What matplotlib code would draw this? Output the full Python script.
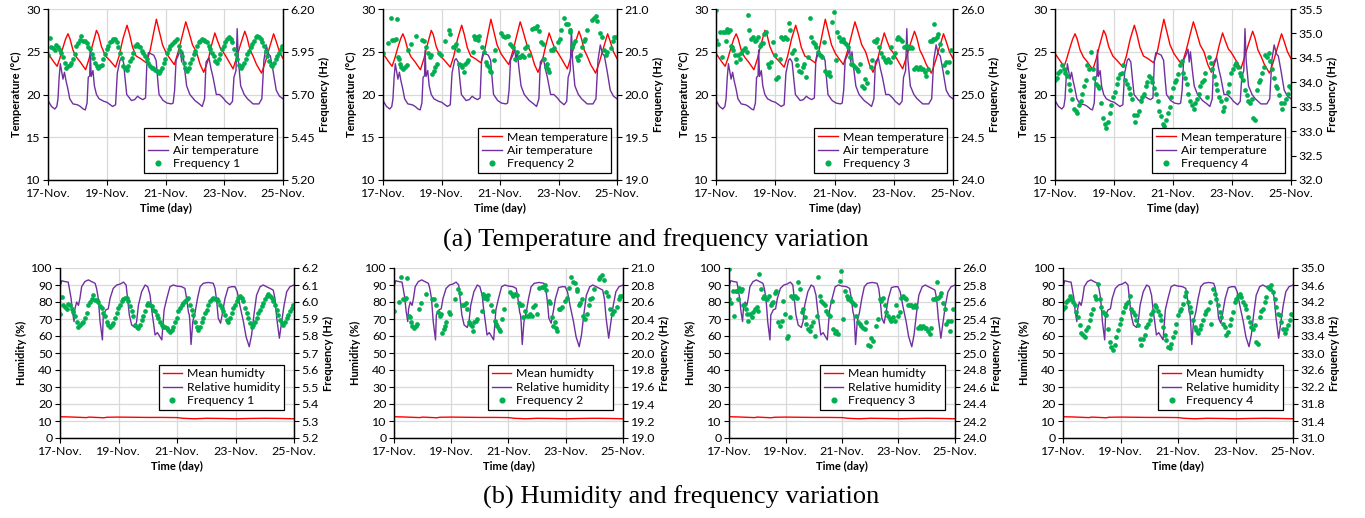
import numpy as np
import matplotlib
matplotlib.use('Agg')
import matplotlib.pyplot as plt
from matplotlib.lines import Line2D
from matplotlib.ticker import FormatStrFormatter

plt.rcParams['font.family'] = ['Lato', 'DejaVu Sans']

# ---------------- data (time in days since 17-Nov 00:00) ----------------
XTICK_POS = [0, 2, 4, 6, 8]
XTICK_LABELS = ['17-Nov.', '19-Nov.', '21-Nov.', '23-Nov.', '25-Nov.']

MEAN_T_DAY = [0.00, 0.10, 0.20, 0.31, 0.40, 0.50, 0.60, 0.68, 0.75, 0.85,
              0.96, 1.10, 1.28, 1.40, 1.50, 1.65, 1.72, 1.82, 1.96, 2.10,
              2.30, 2.42, 2.55, 2.69, 2.78, 2.88, 3.00, 3.15, 3.35, 3.48,
              3.60, 3.69, 3.78, 3.90, 4.03, 4.15, 4.30, 4.45, 4.58, 4.69,
              4.78, 4.92, 5.05, 5.18, 5.30, 5.45, 5.57, 5.68, 5.77, 5.88,
              5.96, 6.10, 6.30, 6.42, 6.55, 6.70, 6.78, 6.88, 6.98, 7.10,
              7.27, 7.40, 7.55, 7.68, 7.76, 7.88, 8.00]
MEAN_T = [24.8, 24.3, 23.8, 23.3, 24.2, 25.4, 26.5, 27.1, 26.5, 25.2,
          24.4, 23.8, 22.9, 24.2, 25.6, 27.5, 27.0, 25.6, 24.5, 24.0,
          23.2, 24.5, 26.5, 28.1, 27.0, 25.5, 24.5, 24.2, 23.7, 25.2,
          27.3, 28.8, 27.5, 25.8, 24.8, 24.2, 23.5, 25.2, 27.0, 28.5,
          27.5, 25.8, 25.0, 23.5, 22.6, 24.0, 25.8, 27.2, 26.3, 25.3,
          25.0, 24.2, 23.0, 24.3, 25.8, 27.4, 26.6, 25.2, 24.5, 23.5,
          22.5, 23.8, 25.6, 27.1, 26.3, 25.0, 24.2]

AIR_T_DAY = [0.00, 0.05, 0.12, 0.23, 0.30, 0.34, 0.38, 0.42, 0.47, 0.51,
             0.56, 0.62, 0.68, 0.74, 0.85, 1.00, 1.10, 1.20, 1.27, 1.33,
             1.37, 1.42, 1.44, 1.47, 1.53, 1.58, 1.65, 1.74, 1.90, 2.00,
             2.20, 2.30, 2.36, 2.45, 2.50, 2.57, 2.62, 2.68, 2.84, 2.95,
             3.05, 3.12, 3.23, 3.32, 3.37, 3.42, 3.60, 3.68, 3.74, 3.78,
             3.92, 4.05, 4.20, 4.26, 4.31, 4.36, 4.44, 4.51, 4.55, 4.59,
             4.65, 4.72, 4.83, 5.00, 5.15, 5.25, 5.33, 5.38, 5.48, 5.55,
             5.62, 5.73, 5.84, 5.96, 6.05, 6.19, 6.28, 6.33, 6.40, 6.44,
             6.48, 6.56, 6.68, 6.79, 6.98, 7.18, 7.28, 7.35, 7.43, 7.50,
             7.57, 7.66, 7.77, 7.88, 8.00]
AIR_T = [19.3, 19.0, 18.6, 18.3, 18.6, 19.5, 22.0, 23.6, 22.6, 21.8,
         22.6, 21.5, 20.6, 19.5, 18.9, 18.8, 18.6, 18.3, 18.2, 19.0,
         22.0, 22.2, 25.2, 22.1, 22.8, 21.0, 20.0, 19.5, 19.2, 19.1,
         18.6, 18.8, 22.5, 24.0, 24.2, 23.8, 22.0, 20.0, 19.3, 19.4,
         19.8, 19.6, 19.4, 19.6, 24.0, 24.9, 24.6, 24.0, 21.5, 20.0,
         19.3, 19.0, 18.9, 19.0, 20.5, 24.0, 24.6, 25.3, 23.8, 25.0,
         23.0, 21.0, 20.0, 19.3, 18.9, 18.6, 19.5, 23.8, 24.3, 23.0,
         22.0, 20.0, 20.0, 19.6, 19.2, 18.8, 19.2, 22.0, 22.8, 27.7,
         24.0, 21.0, 20.0, 19.5, 18.9, 18.9, 19.5, 24.0, 25.8, 24.8,
         24.5, 22.8, 20.5, 19.8, 19.5]

REL_H_DAY = [0.00, 0.06, 0.17, 0.28, 0.32, 0.38, 0.42, 0.48, 0.51, 0.57,
             0.63, 0.68, 0.74, 0.85, 0.97, 1.08, 1.20, 1.25, 1.31, 1.37,
             1.45, 1.48, 1.57, 1.65, 1.71, 1.82, 1.94, 2.05, 2.17, 2.26,
             2.31, 2.37, 2.45, 2.56, 2.62, 2.68, 2.79, 2.91, 3.00, 3.08,
             3.13, 3.19, 3.25, 3.33, 3.40, 3.48, 3.56, 3.65, 3.76, 3.87,
             3.99, 4.16, 4.27, 4.33, 4.39, 4.42, 4.44, 4.48, 4.54, 4.62,
             4.70, 4.79, 4.90, 5.07, 5.24, 5.30, 5.36, 5.41, 5.49, 5.56,
             5.64, 5.75, 5.87, 5.98, 6.06, 6.15, 6.27, 6.36, 6.47, 6.55,
             6.63, 6.72, 6.84, 6.95, 7.06, 7.18, 7.29, 7.35, 7.41, 7.50,
             7.58, 7.66, 7.75, 7.86, 8.00]
REL_H = [89, 92.5, 92, 91.7, 88, 82, 75, 68.5, 76, 80,
         78, 82, 89, 92, 93, 92, 91, 88, 82, 68.5,
         57.7, 72.4, 75.4, 76, 82, 88, 90, 90.5, 91.7, 90,
         82, 72.4, 66.5, 65, 68.5, 78, 86, 90, 89, 84,
         76, 68.5, 60.6, 62, 60, 57.7, 75.4, 82, 89, 90,
         89.4, 89, 88, 82, 74, 72.4, 68.5, 55, 68.5, 74,
         82, 89, 91, 91.5, 91, 88, 80, 70.5, 67.5, 74,
         82, 88.5, 89, 89, 86, 78, 68.5, 59.6, 53.7, 60.6,
         72.4, 84, 89, 90, 89, 88, 87, 82, 70.5, 58.7,
         68.5, 78, 86, 89, 90]

MEAN_H_DAY = [0.0, 0.3, 0.6, 0.9, 1.0, 1.5, 1.6, 2.0, 2.5, 3.0, 3.5,
              4.0, 4.2, 4.6, 5.0, 5.5, 6.0, 6.5, 7.0, 7.5, 8.0]
MEAN_H = [12.5, 12.4, 12.2, 12.0, 12.3, 11.9, 12.2, 12.3, 12.2, 12.1, 12.1,
          12.0, 11.6, 11.3, 11.6, 11.5, 11.3, 11.5, 11.6, 11.5, 11.3]

# Frequency 1 (Hz), regularly sampled from 17-Nov to 25-Nov
FREQ1 = [5.93, 6.03, 5.98, 5.97, 5.96, 5.99, 5.98, 5.96, 5.94, 5.92,
         5.885, 5.855, 5.865, 5.875, 5.885, 5.905, 5.935, 5.985, 6.00, 6.02,
         6.04, 6.01, 6.01, 6.00, 5.975, 5.965, 5.935, 5.915, 5.885, 5.865,
         5.855, 5.865, 5.875, 5.905, 5.935, 5.965, 5.985, 6.005, 6.015, 6.025,
         6.025, 6.005, 5.975, 5.945, 5.915, 5.865, 5.855, 5.845, 5.865, 5.895,
         5.915, 5.945, 5.985, 5.995, 5.985, 5.975, 5.955, 5.945, 5.925, 5.905,
         5.885, 5.865, 5.855, 5.855, 5.845, 5.835, 5.825, 5.835, 5.855, 5.885,
         5.905, 5.945, 5.965, 5.985, 5.995, 6.005, 6.015, 6.025, 5.985, 5.955,
         5.925, 5.885, 5.855, 5.835, 5.855, 5.885, 5.905, 5.935, 5.955, 5.985,
         6.005, 6.015, 6.025, 6.02, 6.015, 6.005, 5.985, 5.965, 5.945, 5.925,
         5.895, 5.885, 5.905, 5.935, 5.965, 5.985, 6.005, 6.025, 6.035, 6.025,
         6.005, 5.965, 5.935, 5.905, 5.875, 5.855, 5.865, 5.885, 5.905, 5.935,
         5.955, 5.975, 5.995, 6.015, 6.035, 6.045, 6.035, 6.025, 6.005, 5.985,
         5.955, 5.925, 5.895, 5.875, 5.865, 5.885, 5.905, 5.925, 5.945, 5.965,
         5.985]
FREQ1_DAY = np.linspace(0.0, 7.98, len(FREQ1))

FREQ2_DAY = [0.00, 0.18, 0.26, 0.32, 0.37, 0.43, 0.47, 0.51, 0.55, 0.58,
             0.63, 0.69, 0.76, 0.81, 0.86, 0.96, 1.13, 1.34, 1.40, 1.48,
             1.54, 1.60, 1.64, 1.68, 1.74, 1.78, 1.83, 1.92, 1.97, 2.13,
             2.24, 2.30, 2.39, 2.45, 2.51, 2.56, 2.61, 2.65, 2.71, 2.77,
             2.80, 2.86, 2.91, 3.06, 3.10, 3.14, 3.20, 3.24, 3.29, 3.38,
             3.47, 3.53, 3.56, 3.61, 3.66, 3.70, 3.79, 3.84, 4.05, 4.11,
             4.17, 4.23, 4.29, 4.35, 4.40, 4.46, 4.52, 4.58, 4.64, 4.70,
             4.75, 4.81, 4.87, 4.93, 4.99, 5.08, 5.16, 5.22, 5.28, 5.32,
             5.40, 5.46, 5.51, 5.57, 5.61, 5.65, 5.69, 5.75, 5.81, 5.86,
             5.98, 6.04, 6.10, 6.18, 6.27, 6.33, 6.39, 6.41, 6.45, 6.51,
             6.57, 6.62, 6.68, 6.74, 6.80, 6.86, 6.92, 6.97, 7.15, 7.21,
             7.27, 7.32, 7.41, 7.48, 7.55, 7.62, 7.67, 7.79, 7.85, 7.91,
             7.97]
FREQ2 = [20.49, 20.60, 20.90, 20.64, 20.64, 20.65, 20.88, 20.44, 20.42, 20.36,
         20.32, 20.30, 20.32, 20.34, 20.52, 20.59, 20.69, 20.64, 20.63, 20.56,
         20.48, 20.44, 20.46, 20.24, 20.28, 20.32, 20.36, 20.48, 20.46, 20.63,
         20.75, 20.71, 20.56, 20.57, 20.59, 20.52, 20.36, 20.34, 20.32, 20.26,
         20.36, 20.38, 20.40, 20.50, 20.69, 20.65, 20.67, 20.64, 20.68, 20.56,
         20.50, 20.38, 20.34, 20.32, 20.28, 20.26, 20.40, 20.52, 20.72, 20.69,
         20.67, 20.69, 20.68, 20.59, 20.57, 20.56, 20.42, 20.50, 20.44, 20.44,
         20.46, 20.44, 20.54, 20.57, 20.46, 20.77, 20.78, 20.78, 20.80, 20.74,
         20.61, 20.59, 20.42, 20.32, 20.36, 20.30, 20.26, 20.52, 20.52, 20.54,
         20.61, 20.65, 20.76, 20.90, 20.83, 20.82, 20.75, 20.73, 20.56, 20.59,
         20.63, 20.44, 20.40, 20.46, 20.56, 20.63, 20.65, 20.75, 20.87, 20.89,
         20.92, 20.86, 20.72, 20.67, 20.52, 20.46, 20.50, 20.54, 20.63, 20.67,
         20.67]

FREQ3_DAY = [0.00, 0.01, 0.06, 0.13, 0.19, 0.24, 0.29, 0.33, 0.37, 0.42,
             0.47, 0.51, 0.54, 0.59, 0.65, 0.68, 0.74, 0.80, 0.86, 0.92,
             0.98, 1.04, 1.07, 1.13, 1.19, 1.24, 1.30, 1.35, 1.41, 1.47,
             1.51, 1.57, 1.62, 1.68, 1.74, 1.80, 1.86, 1.92, 1.98, 2.04,
             2.10, 2.16, 2.21, 2.27, 2.33, 2.39, 2.45, 2.51, 2.57, 2.63,
             2.69, 2.74, 2.80, 2.86, 2.92, 2.98, 3.04, 3.10, 3.16, 3.22,
             3.27, 3.33, 3.39, 3.45, 3.51, 3.57, 3.63, 3.69, 3.75, 3.80,
             3.86, 3.92, 3.98, 4.04, 4.10, 4.16, 4.22, 4.28, 4.33, 4.39,
             4.45, 4.51, 4.57, 4.63, 4.69, 4.75, 4.81, 4.86, 4.92, 4.98,
             5.04, 5.10, 5.22, 5.28, 5.34, 5.39, 5.45, 5.51, 5.57, 5.63,
             5.69, 5.75, 5.81, 5.87, 5.92, 5.98, 6.04, 6.10, 6.16, 6.22,
             6.28, 6.34, 6.40, 6.45, 6.51, 6.57, 6.63, 6.69, 6.75, 6.81,
             6.87, 6.93, 6.98, 7.04, 7.10, 7.16, 7.22, 7.28, 7.34, 7.36,
             7.40, 7.46, 7.51, 7.57, 7.63, 7.69, 7.75, 7.81, 7.87, 7.93]
FREQ3 = [25.64, 25.99, 25.59, 25.73, 25.44, 25.73, 25.73, 25.63, 25.77, 25.73,
         25.75, 25.57, 25.56, 25.52, 25.46, 25.38, 25.46, 25.42, 25.48, 25.52,
         25.54, 25.50, 25.93, 25.75, 25.65, 25.67, 25.63, 25.64, 25.67, 25.57,
         25.59, 25.60, 25.71, 25.73, 25.36, 25.32, 25.38, 25.61, 25.46, 25.18,
         25.20, 25.42, 25.67, 25.65, 25.67, 25.65, 25.84, 25.75, 25.48, 25.52,
         25.42, 25.34, 25.28, 25.26, 25.32, 25.36, 25.20, 25.44, 25.90, 25.67,
         25.61, 25.59, 25.56, 25.50, 25.46, 25.44, 25.61, 25.28, 25.24, 25.26,
         25.22, 25.85, 25.97, 25.40, 25.73, 25.67, 25.63, 25.65, 25.61, 25.59,
         25.56, 25.44, 25.36, 25.34, 25.32, 25.30, 25.28, 25.36, 25.10, 25.08,
         25.18, 25.14, 25.32, 25.40, 25.63, 25.61, 25.65, 25.56, 25.48, 25.44,
         25.40, 25.38, 25.42, 25.38, 25.56, 25.44, 25.48, 25.65, 25.67, 25.65,
         25.63, 25.56, 25.57, 25.57, 25.54, 25.56, 25.54, 25.30, 25.32, 25.30,
         25.32, 25.30, 25.30, 25.26, 25.22, 25.30, 25.63, 25.63, 25.65, 25.83,
         25.65, 25.67, 25.71, 25.59, 25.52, 25.34, 25.38, 25.26, 25.38, 25.52]

# Frequency 4 (Hz), regularly sampled from 17-Nov to 25-Nov
FREQ4 = [34.04, 34.08, 34.20, 34.24, 34.35, 34.28, 34.20, 34.12, 33.96, 33.85,
         33.65, 33.46, 33.42, 33.38, 33.53, 33.61, 33.77, 33.92, 34.04, 34.35,
         34.28, 34.63, 34.28, 34.08, 33.96, 33.92, 33.89, 33.57, 33.26, 33.14,
         33.07, 33.18, 33.38, 33.53, 33.69, 33.81, 33.96, 34.08, 34.16, 34.20,
         34.35, 34.04, 33.96, 33.89, 33.77, 33.65, 33.34, 33.18, 33.34, 33.42,
         33.61, 33.69, 33.77, 33.92, 34.00, 34.12, 34.08, 34.00, 33.89, 33.77,
         33.61, 33.42, 33.30, 33.14, 33.11, 33.22, 33.38, 33.50, 33.69, 33.89,
         34.00, 34.04, 34.16, 34.35, 34.43, 34.20, 34.08, 33.96, 33.77, 33.61,
         33.53, 33.46, 33.57, 33.65, 33.77, 33.92, 34.00, 34.04, 34.20, 33.69,
         34.51, 34.39, 34.28, 34.12, 33.96, 33.85, 33.69, 33.61, 33.42, 33.50,
         33.65, 33.81, 33.96, 34.20, 34.28, 34.35, 34.39, 34.31, 34.20, 34.12,
         34.04, 33.85, 33.73, 33.61, 33.57, 33.65, 33.26, 33.22, 33.85, 34.00,
         34.04, 34.20, 34.31, 34.55, 34.51, 34.59, 34.43, 34.28, 34.08, 33.92,
         33.89, 33.73, 33.57, 33.46, 33.57, 33.65, 33.77, 33.92, 33.89]
FREQ4_DAY = np.linspace(0.0, 8.0, len(FREQ4))

FREQ_DAYS = [FREQ1_DAY, FREQ2_DAY, FREQ3_DAY, FREQ4_DAY]
FREQS = [FREQ1, FREQ2, FREQ3, FREQ4]
FREQ_NAMES = ['Frequency 1', 'Frequency 2', 'Frequency 3', 'Frequency 4']

# ---------------- styling ----------------
RED = '#FF0000'
PURPLE = '#7030A0'
GREEN = '#00B050'
GRID = '#D9D9D9'
TICK_FS = 8.9
LAB_FS = 8.0
LEG_FS = 8.8
MS = 3.4

W, H = 1365, 518
fig = plt.figure(figsize=(W / 100, H / 100), dpi=100)


def px_axes(x0, x1, y0, y1):
    return fig.add_axes([x0 / W, 1 - y1 / H, (x1 - x0) / W, (y1 - y0) / H])


TOP_BOXES = [(48, 283), (383, 617), (716, 953), (1055, 1291)]
BOT_BOXES = [(60, 294), (394, 623), (729, 955), (1063, 1293)]
TOP_RIGHT = [((5.2, 6.2), 5, '%.2f'), ((19.0, 21.0), 5, '%.1f'),
             ((24.0, 26.0), 5, '%.1f'), ((32.0, 35.5), 8, '%.1f')]
BOT_RIGHT = [((5.2, 6.2), 11, '%.1f'), ((19.0, 21.0), 11, '%.1f'),
             ((24.0, 26.0), 11, '%.1f'), ((31.0, 35.0), 11, '%.1f')]


def style_axes(ax, ax2, ylim, nleft, rlim, nright, rfmt, ylabel):
    ax.set_xlim(0, 8)
    ax.set_xticks(XTICK_POS)
    ax.set_xticklabels(XTICK_LABELS)
    ax.set_ylim(*ylim)
    ax.set_yticks(np.linspace(ylim[0], ylim[1], nleft))
    ax.yaxis.set_major_formatter(FormatStrFormatter('%d'))
    ax.grid(True, color=GRID, lw=0.9)
    ax.set_axisbelow(True)
    ax2.set_ylim(*rlim)
    ax2.set_yticks(np.linspace(rlim[0], rlim[1], nright))
    ax2.yaxis.set_major_formatter(FormatStrFormatter(rfmt))
    for a in (ax, ax2):
        a.spines['top'].set_visible(False)
        for s in ('left', 'right', 'bottom'):
            a.spines[s].set_color('black')
            a.spines[s].set_linewidth(0.9)
        a.tick_params(direction='out', length=3.5, width=0.8,
                      labelsize=TICK_FS, pad=2, colors='black')
    ax.set_xlabel('Time (day)', fontsize=LAB_FS, fontweight='bold', labelpad=3)
    ax.set_ylabel(ylabel, fontsize=LAB_FS, fontweight='bold', labelpad=3)
    ax2.set_ylabel('Frequency (Hz)', fontsize=LAB_FS, fontweight='bold', labelpad=3)


def add_legend(ax2, names, anchor):
    handles = [Line2D([], [], color=RED, lw=1.0),
               Line2D([], [], color=PURPLE, lw=1.0),
               Line2D([], [], color=GREEN, marker='o', ls='none', ms=MS)]
    leg = ax2.legend(handles, names, loc='lower right', bbox_to_anchor=anchor,
                     frameon=True, fancybox=False, edgecolor='black',
                     framealpha=1, fontsize=LEG_FS, handlelength=1.6,
                     labelspacing=0.2, borderpad=0.3, handletextpad=0.4,
                     borderaxespad=0.0)
    leg.get_frame().set_linewidth(0.9)


for i in range(4):
    # temperature row
    ax = px_axes(TOP_BOXES[i][0], TOP_BOXES[i][1], 9, 180)
    ax2 = ax.twinx()
    ax.plot(MEAN_T_DAY, MEAN_T, color=RED, lw=1.0)
    ax.plot(AIR_T_DAY, AIR_T, color=PURPLE, lw=1.0)
    ax2.plot(FREQ_DAYS[i], FREQS[i], 'o', color=GREEN, ms=MS, mew=0)
    rlim, nr, rf = TOP_RIGHT[i]
    style_axes(ax, ax2, (10, 30), 5, rlim, nr, rf, 'Temperature (°C)')
    add_legend(ax2, ['Mean temperature', 'Air temperature', FREQ_NAMES[i]],
               (0.975, 0.04))

    # humidity row
    bx = px_axes(BOT_BOXES[i][0], BOT_BOXES[i][1], 268, 438)
    bx2 = bx.twinx()
    bx.plot(MEAN_H_DAY, MEAN_H, color=RED, lw=1.0)
    bx.plot(REL_H_DAY, REL_H, color=PURPLE, lw=1.0)
    bx2.plot(FREQ_DAYS[i], FREQS[i], 'o', color=GREEN, ms=MS, mew=0)
    rlim, nr, rf = BOT_RIGHT[i]
    style_axes(bx, bx2, (0, 100), 11, rlim, nr, rf, 'Humidity (%)')
    add_legend(bx2, ['Mean humidty', 'Relative humidity', FREQ_NAMES[i]],
               (0.957, 0.165))

fig.text(656 / W, 1 - 240 / H, '(a) Temperature and frequency variation',
         ha='center', va='center', family='Liberation Serif', fontsize=19)
fig.text(681 / W, 1 - 497 / H, '(b) Humidity and frequency variation',
         ha='center', va='center', family='Liberation Serif', fontsize=19)

fig.savefig('out.png', dpi=100)
